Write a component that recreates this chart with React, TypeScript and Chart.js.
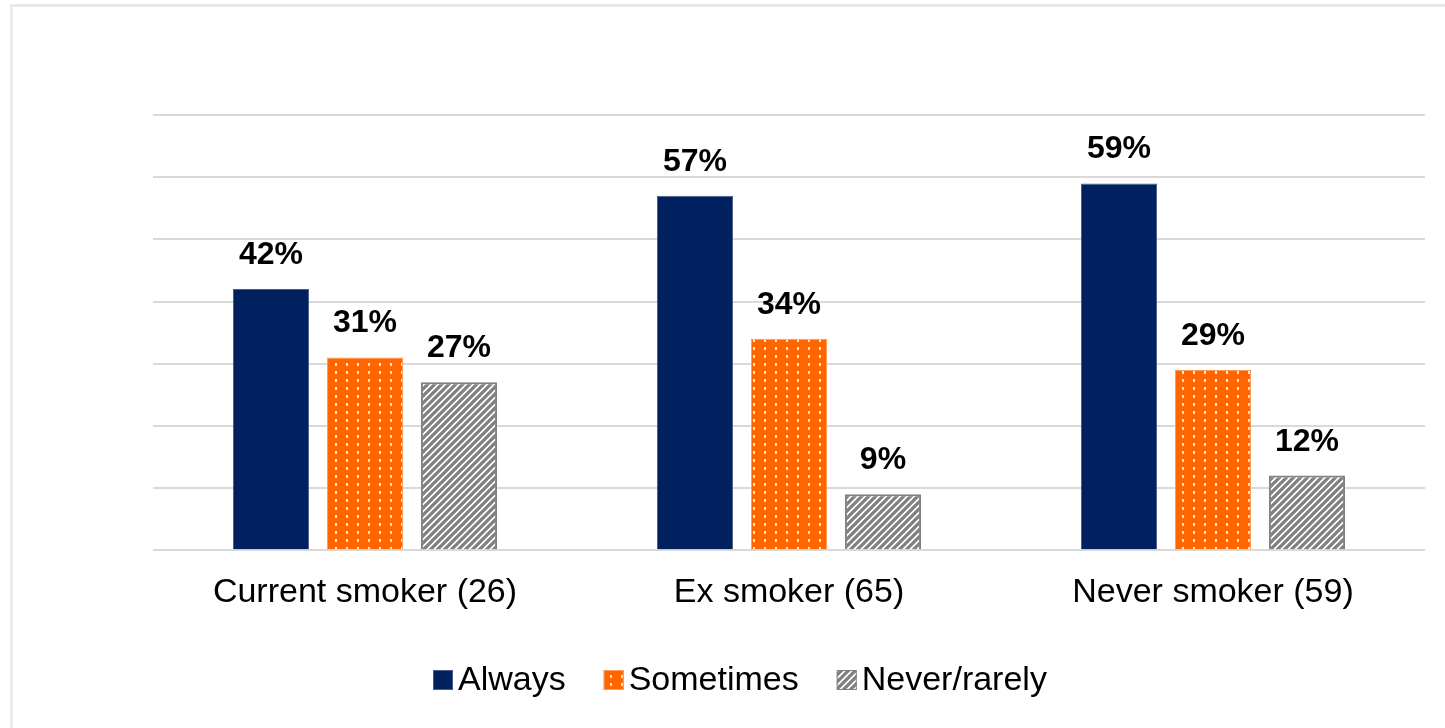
import React, { useEffect, useRef } from "react";
import { Chart, registerables } from "chart.js";

Chart.register(...registerables);

// Smoking status groups with respondent counts
const categories = ["Current smoker (26)", "Ex smoker (65)", "Never smoker (59)"];
const seriesNames = ["Always", "Sometimes", "Never/rarely"];
const alwaysValues = [42, 57, 59];
const sometimesValues = [31, 34, 29];
const neverRarelyValues = [27, 9, 12];
const yMax = 70;
const yStep = 10;

const NAVY = "#012060";
const ORANGE = "#ff6600";
const GREY = "#808080";
const FONT = "Arial, 'Liberation Sans', sans-serif";

function makeDotPattern(): CanvasPattern | string {
  const c = document.createElement("canvas");
  c.width = 11;
  c.height = 8;
  const g = c.getContext("2d");
  if (!g) return ORANGE;
  g.fillStyle = ORANGE;
  g.fillRect(0, 0, 11, 8);
  g.fillStyle = "rgba(255,255,255,0.85)";
  g.fillRect(5, 3, 2, 3);
  return g.createPattern(c, "repeat") || ORANGE;
}

function makeHatchPattern(): CanvasPattern | string {
  const s = 7;
  const c = document.createElement("canvas");
  c.width = s;
  c.height = s;
  const g = c.getContext("2d");
  if (!g) return GREY;
  g.fillStyle = "#ffffff";
  g.fillRect(0, 0, s, s);
  g.strokeStyle = GREY;
  g.lineWidth = 3.3;
  g.beginPath();
  g.moveTo(-1, s + 1);
  g.lineTo(s + 1, -1);
  g.moveTo(-2, 2);
  g.lineTo(2, -2);
  g.moveTo(s - 2, s + 2);
  g.lineTo(s + 2, s - 2);
  g.stroke();
  return g.createPattern(c, "repeat") || GREY;
}

export default function App() {
  const canvasRef = useRef<HTMLCanvasElement | null>(null);

  useEffect(() => {
    const canvas = canvasRef.current;
    if (!canvas) return;
    const dots = makeDotPattern();
    const hatch = makeHatchPattern();

    // Percent labels above each bar
    const valueLabels = {
      id: "valueLabels",
      afterDatasetsDraw(chart: any) {
        const ctx = chart.ctx;
        ctx.save();
        ctx.font = `bold 32px ${FONT}`;
        ctx.fillStyle = "#000000";
        ctx.textAlign = "center";
        ctx.textBaseline = "alphabetic";
        chart.data.datasets.forEach((ds: any, di: number) => {
          const meta = chart.getDatasetMeta(di);
          meta.data.forEach((bar: any, i: number) => {
            ctx.fillText(`${ds.data[i]}%`, bar.x, bar.y - 25);
          });
        });
        ctx.restore();
      },
    };

    // Compact legend row under the axis labels
    const bottomLegend = {
      id: "bottomLegend",
      afterDraw(chart: any) {
        const ctx = chart.ctx;
        const fills = [NAVY, dots, hatch];
        const borders = ["#4a5c8a", "#ff9a55", GREY];
        const box = 20;
        const gapText = 5;
        const gapItem = 38;
        const cy = 680;
        ctx.save();
        ctx.font = `34px ${FONT}`;
        ctx.textBaseline = "middle";
        ctx.textAlign = "left";
        let x = 433;
        seriesNames.forEach((name, i) => {
          ctx.fillStyle = fills[i];
          ctx.fillRect(x, cy - box / 2, box, box);
          ctx.strokeStyle = borders[i];
          ctx.lineWidth = 1;
          ctx.strokeRect(x + 0.5, cy - box / 2 + 0.5, box - 1, box - 1);
          ctx.fillStyle = "#000000";
          ctx.fillText(name, x + box + gapText, cy + 1);
          x += box + gapText + ctx.measureText(name).width + gapItem;
        });
        ctx.restore();
      },
    };

    const chart = new Chart(canvas, {
      type: "bar",
      data: {
        labels: categories,
        datasets: [
          {
            label: seriesNames[0],
            data: alwaysValues,
            backgroundColor: NAVY,
            borderColor: "#4a5c8a",
            borderWidth: 1,
          },
          {
            label: seriesNames[1],
            data: sometimesValues,
            backgroundColor: dots as any,
            borderColor: "#ff9a55",
            borderWidth: 1,
          },
          {
            label: seriesNames[2],
            data: neverRarelyValues,
            backgroundColor: hatch as any,
            borderColor: GREY,
            borderWidth: 2,
          },
        ],
      },
      options: {
        responsive: false,
        animation: false,
        devicePixelRatio: 1,
        categoryPercentage: 0.665,
        barPercentage: 0.81,
        layout: { padding: { left: 153, right: 20, top: 115, bottom: 93 } },
        plugins: {
          legend: { display: false },
          tooltip: { enabled: false },
        },
        scales: {
          x: {
            grid: { display: false, drawTicks: false },
            border: { display: false },
            ticks: {
              color: "#000000",
              padding: 22,
              font: { family: FONT, size: 34 },
            },
          },
          y: {
            min: 0,
            max: yMax,
            ticks: { display: false, stepSize: yStep },
            grid: { color: "#d9d9d9", lineWidth: 2, drawTicks: false },
            border: { display: false },
          },
        },
      },
      plugins: [valueLabels, bottomLegend],
    });

    return () => chart.destroy();
  }, []);

  return (
    <div
      style={{
        position: "fixed",
        left: 0,
        top: 0,
        width: 1445,
        height: 728,
        overflow: "hidden",
        background: "#ffffff",
      }}
    >
      <div
        style={{
          position: "absolute",
          left: 10,
          top: 4,
          width: 1460,
          height: 760,
          borderTop: "3px solid #e8e8e8",
          borderLeft: "3px solid #ececec",
        }}
      />
      <canvas
        ref={canvasRef}
        width={1445}
        height={728}
        style={{ position: "absolute", left: 0, top: 0 }}
      />
    </div>
  );
}
